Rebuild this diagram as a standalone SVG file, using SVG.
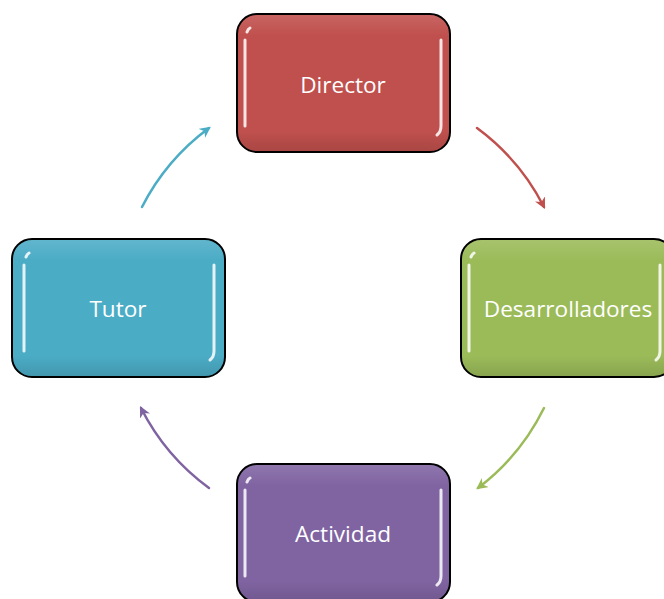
<svg xmlns="http://www.w3.org/2000/svg" width="664" height="599" viewBox="0 0 664 599">
<defs>
<style>
.box{stroke:#000;stroke-width:2}
.hl{fill:none;stroke:#fff;stroke-width:3;stroke-linecap:round;opacity:0.85}
.lbl{font-family:"Open Sans","Noto Sans",sans-serif;font-size:22.6px;fill:#fff;text-anchor:middle;dominant-baseline:central}
.arc{fill:none;stroke-width:2.5;stroke-linecap:round}
</style>
<linearGradient id="shade" x1="0" y1="0" x2="0" y2="1">
<stop offset="0" stop-color="#fff" stop-opacity="0.12"/>
<stop offset="0.15" stop-color="#fff" stop-opacity="0"/>
<stop offset="0.85" stop-color="#000" stop-opacity="0"/>
<stop offset="1" stop-color="#000" stop-opacity="0.12"/>
</linearGradient>
<marker id="mRed" viewBox="0 0 10 10" refX="8" refY="5" markerWidth="4.5" markerHeight="4.5" orient="auto" markerUnits="strokeWidth"><path d="M0,0 L10,5 L0,10 L3,5 Z" fill="#C0504D"/></marker>
<marker id="mGreen" viewBox="0 0 10 10" refX="8" refY="5" markerWidth="4.5" markerHeight="4.5" orient="auto" markerUnits="strokeWidth"><path d="M0,0 L10,5 L0,10 L3,5 Z" fill="#9BBB59"/></marker>
<marker id="mPurple" viewBox="0 0 10 10" refX="8" refY="5" markerWidth="4.5" markerHeight="4.5" orient="auto" markerUnits="strokeWidth"><path d="M0,0 L10,5 L0,10 L3,5 Z" fill="#8064A2"/></marker>
<marker id="mCyan" viewBox="0 0 10 10" refX="8" refY="5" markerWidth="4.5" markerHeight="4.5" orient="auto" markerUnits="strokeWidth"><path d="M0,0 L10,5 L0,10 L3,5 Z" fill="#4BACC6"/></marker>
</defs>
<rect width="664" height="599" fill="#fff"/>
<g id="connectors">
<path class="arc" stroke="#C0504D" d="M477,128 A225,225 0 0 1 544,207" marker-end="url(#mRed)"/>
<path class="arc" stroke="#9BBB59" d="M544,408 A225,225 0 0 1 478,488" marker-end="url(#mGreen)"/>
<path class="arc" stroke="#8064A2" d="M209,488 A225,225 0 0 1 141,408" marker-end="url(#mPurple)"/>
<path class="arc" stroke="#4BACC6" d="M142,207 A225,225 0 0 1 209,128" marker-end="url(#mCyan)"/>
</g>
<g id="director">
<rect class="box" x="237" y="14" width="213" height="138" rx="20" fill="#C0504D"/>
<rect x="238" y="15" width="211" height="136" rx="19" fill="url(#shade)"/>
<path class="hl" d="M245,40 L245,126 M247,32 Q248,29 250,28"/>
<path class="hl" d="M441,40 L441,126 Q441,132 437,135"/>
<text class="lbl" x="343" y="84">Director</text>
</g>
<g id="desarrolladores">
<rect class="box" x="461" y="239" width="213" height="138" rx="20" fill="#9BBB59"/>
<rect x="462" y="240" width="211" height="136" rx="19" fill="url(#shade)"/>
<path class="hl" d="M469,265 L469,351 M471,257 Q472,254 474,253"/>
<path class="hl" d="M660,265 L660,351 Q660,357 656,360"/>
<text class="lbl" x="568" y="308">Desarrolladores</text>
</g>
<g id="tutor">
<rect class="box" x="12" y="239" width="213" height="138" rx="20" fill="#4BACC6"/>
<rect x="13" y="240" width="211" height="136" rx="19" fill="url(#shade)"/>
<path class="hl" d="M24,265 L24,351 M26,257 Q27,254 29,253"/>
<path class="hl" d="M214,265 L214,351 Q214,357 210,360"/>
<text class="lbl" x="118" y="308">Tutor</text>
</g>
<g id="actividad">
<rect class="box" x="237" y="464" width="213" height="138" rx="20" fill="#8064A2"/>
<rect x="238" y="465" width="211" height="136" rx="19" fill="url(#shade)"/>
<path class="hl" d="M245,490 L245,576 M247,482 Q248,479 250,478"/>
<path class="hl" d="M441,490 L441,576 Q441,582 437,585"/>
<text class="lbl" x="343" y="533">Actividad</text>
</g>
</svg>
